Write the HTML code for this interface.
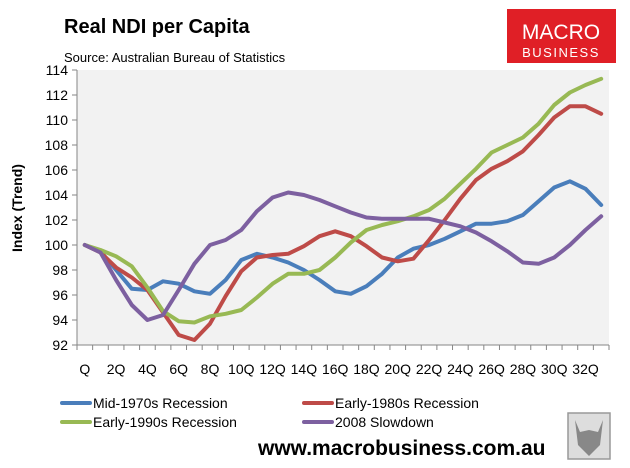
<!DOCTYPE html>
<html><head><meta charset="utf-8"><style>
body{margin:0;background:#fff;font-family:"Liberation Sans",sans-serif;}
#wrap{position:relative;width:630px;height:468px;overflow:hidden;}
</style></head><body>
<div id="wrap">
<svg id="svg" width="630" height="468" xmlns="http://www.w3.org/2000/svg">
<text x="64" y="33" font-size="20" font-weight="bold" fill="#000">Real NDI per Capita</text>
<text x="64" y="62" font-size="13" fill="#000">Source: Australian Bureau of Statistics</text>
<g>
<rect x="507" y="9" width="109" height="54" fill="#e01f26"/>
<text x="561" y="39" font-size="21" fill="#fff" text-anchor="middle">MACRO</text>
<text x="561" y="57" font-size="13" fill="#fff" text-anchor="middle" letter-spacing="1.5">BUSINESS</text>
</g>
<rect x="77" y="70" width="532" height="275" fill="#f2f2f2"/>
<g id="axes"></g>
<g id="series"></g>
<text transform="translate(22,208) rotate(-90)" font-size="14" font-weight="bold" text-anchor="middle">Index (Trend)</text>
<g id="legend"></g>
<text x="258" y="455" font-size="21" font-weight="bold" fill="#000">www.macrobusiness.com.au</text>
<g>
<rect x="568" y="413" width="42" height="46" fill="#ddd" stroke="#999" stroke-width="1.5"/>
<path d="M575 420 L580 432 L589 430 L598 432 L603 420 L600 445 L589 456 L578 445 Z" fill="#888"/>
</g>
</svg>
</div>
<script>
const categories = [];
for (let i = 0; i <= 33; i++) categories.push(i === 0 ? "Q" : (i % 2 === 0 ? i + "Q" : ""));
const yTicks = [92, 94, 96, 98, 100, 102, 104, 106, 108, 110, 112, 114];
const seriesNames = ["Mid-1970s Recession", "Early-1980s Recession", "Early-1990s Recession", "2008 Slowdown"];
const seriesColors = ["#4a7ebb", "#be4b48", "#98b954", "#7d60a0"];
const mid1970s = [100,99.5,98,96.5,96.4,97.1,96.9,96.3,96.1,97.2,98.8,99.3,99.0,98.6,98.0,97.2,96.3,96.1,96.7,97.7,99.0,99.7,100.0,100.5,101.1,101.7,101.7,101.9,102.4,103.5,104.6,105.1,104.5,103.2];
const early1980s = [100,99.4,98.2,97.4,96.4,94.6,92.8,92.4,93.7,95.9,97.9,99.0,99.2,99.3,99.9,100.7,101.1,100.7,99.9,99.0,98.7,98.9,100.4,102.0,103.7,105.2,106.1,106.7,107.5,108.8,110.2,111.1,111.1,110.5];
const early1990s = [100,99.6,99.1,98.3,96.6,94.7,93.9,93.8,94.3,94.5,94.8,95.8,96.9,97.7,97.7,98.0,99.0,100.2,101.2,101.6,101.9,102.3,102.8,103.7,104.9,106.1,107.4,108.0,108.6,109.7,111.2,112.2,112.8,113.3];
const slowdown2008 = [100,99.4,97.2,95.2,94.0,94.4,96.4,98.5,100.0,100.4,101.2,102.7,103.8,104.2,104.0,103.6,103.1,102.6,102.2,102.1,102.1,102.1,102.1,101.8,101.5,101.0,100.3,99.5,98.6,98.5,99.0,100.0,101.2,102.3];
const allSeries = [mid1970s, early1980s, early1990s, slowdown2008];

const NS = "http://www.w3.org/2000/svg";
const X0 = 77, X1 = 609, Y0 = 345, Y1 = 70, YMIN = 92, YMAX = 114;
const band = (X1 - X0) / categories.length;
function xPos(i) { return X0 + band * (i + 0.5); }
function yPos(v) { return Y0 - (v - YMIN) / (YMAX - YMIN) * (Y0 - Y1); }
function mk(tag, attrs, parent) { const e = document.createElementNS(NS, tag); for (const k in attrs) e.setAttribute(k, attrs[k]); parent.appendChild(e); return e; }

const axes = document.getElementById("axes");
mk("line", {x1: X0, y1: Y1, x2: X0, y2: Y0, stroke: "#868686", "stroke-width": 1}, axes);
mk("line", {x1: X0, y1: Y0, x2: X1, y2: Y0, stroke: "#868686", "stroke-width": 1}, axes);
yTicks.forEach(t => {
  const y = yPos(t);
  mk("line", {x1: X0 - 5, y1: y, x2: X0, y2: y, stroke: "#868686"}, axes);
  const tx = mk("text", {x: X0 - 9, y: y + 5, "font-size": 14, "text-anchor": "end"}, axes);
  tx.textContent = t;
  
  
});
for (let i = 0; i <= categories.length; i++) {
  const x = X0 + band * i;
  mk("line", {x1: x, y1: Y0, x2: x, y2: Y0 + 5, stroke: "#868686"}, axes);
}
categories.forEach((c, i) => {
  if (!c) return;
  const tx = mk("text", {x: xPos(i), y: Y0 + 29, "font-size": 14, "text-anchor": "middle"}, axes);
  tx.textContent = c;
  
  
});

const sg = document.getElementById("series");
allSeries.forEach((data, s) => {
  const pts = data.map((v, i) => xPos(i).toFixed(1) + "," + yPos(v).toFixed(1)).join(" ");
  const pl = mk("polyline", {points: pts, fill: "none", stroke: seriesColors[s], "stroke-width": 4, "stroke-linejoin": "round", "stroke-linecap": "round"}, sg);
  
  
});

const lg = document.getElementById("legend");
const legPos = [[62, 403], [304, 403], [62, 422], [304, 422]];
seriesNames.forEach((n, s) => {
  const [x, y] = legPos[s];
  const g = mk("g", {}, lg);
  
  
  mk("line", {x1: x, y1: y, x2: x + 28, y2: y, stroke: seriesColors[s], "stroke-width": 4, "stroke-linecap": "round"}, g);
  const t = mk("text", {x: x + 31, y: y + 5, "font-size": 14}, g);
  t.textContent = n;
});
</script>
</body></html>
